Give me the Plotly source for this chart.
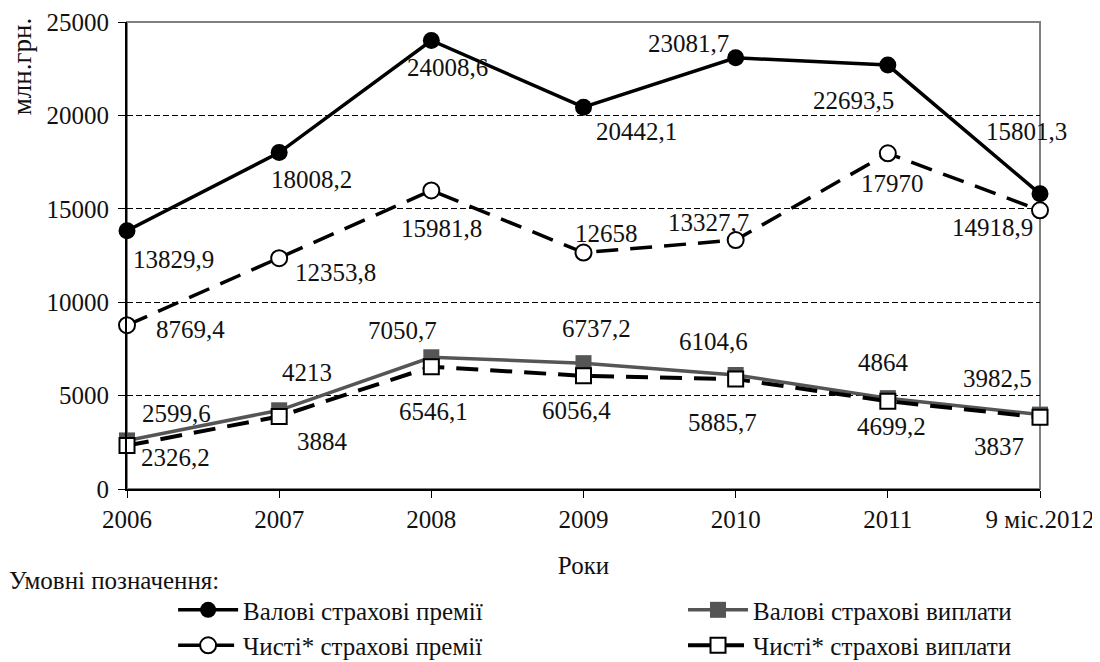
import plotly.graph_objects as go

categories = ["2006", "2007", "2008", "2009", "2010", "2011", "9 міс.2012"]
gross_premiums = [13829.9, 18008.2, 24008.6, 20442.1, 23081.7, 22693.5, 15801.3]
net_premiums = [8769.4, 12353.8, 15981.8, 12658, 13327.7, 17970, 14918.9]
gross_payouts = [2599.6, 4213, 7050.7, 6737.2, 6104.6, 4864, 3982.5]
net_payouts = [2326.2, 3884, 6546.1, 6056.4, 5885.7, 4699.2, 3837]
y_ticks = [0, 5000, 10000, 15000, 20000, 25000]

names = ["Валові страхові премії", "Чисті* страхові премії",
         "Валові страхові виплати", "Чисті* страхові виплати"]

# label offsets in px (dx right, dy down) for each series
label_offsets = [
    [(46, 29), (32, 27), (16, 27), (53, 24), (-47, -14), (-34, 35), (-14, -62)],
    [(63, 4), (56, 14), (10, 38), (23, -19), (-27, -18), (5, 30), (-48, 17)],
    [(49, -27), (28, -38), (-29, -27), (13, -35), (-22, -33), (-4, -36), (-43, -36)],
    [(48, 12), (43, 25), (2, 45), (-7, 35), (-13, 43), (4, 25), (-41, 29)],
]

FONT = "'Liberation Serif', 'Times New Roman', Times, 'DejaVu Serif', serif"
FS = 25
TXT = "#111111"


def fmt(v):
    if float(v).is_integer():
        return str(int(v))
    return f"{v:.1f}".replace(".", ",")


fig = go.Figure()

fig.add_trace(go.Scatter(
    x=categories, y=gross_premiums, name=names[0], mode="lines+markers",
    line=dict(color="#000000", width=3.5),
    marker=dict(symbol="circle", size=17, color="#000000"),
    cliponaxis=False, legend="legend"))
fig.add_trace(go.Scatter(
    x=categories, y=net_premiums, name=names[1], mode="lines+markers",
    line=dict(color="#000000", width=3.5, dash="22px,12px"),
    marker=dict(symbol="circle", size=16, color="#ffffff",
                line=dict(color="#000000", width=2)),
    cliponaxis=False, legend="legend"))
fig.add_trace(go.Scatter(
    x=categories, y=gross_payouts, name=names[2], mode="lines+markers",
    line=dict(color="#555555", width=3.5),
    marker=dict(symbol="square", size=16, color="#555555"),
    cliponaxis=False, legend="legend2"))
fig.add_trace(go.Scatter(
    x=categories, y=net_payouts, name=names[3], mode="lines+markers",
    line=dict(color="#000000", width=4, dash="22px,12px"),
    marker=dict(symbol="square", size=15, color="#ffffff",
                line=dict(color="#000000", width=2)),
    cliponaxis=False, legend="legend2"))

series = [gross_premiums, net_premiums, gross_payouts, net_payouts]
annotations = []
for vals, offs in zip(series, label_offsets):
    for i, (v, (dx, dy)) in enumerate(zip(vals, offs)):
        annotations.append(dict(
            x=i, y=v, xref="x", yref="y", text=fmt(v), showarrow=False,
            xshift=dx, yshift=-dy, xanchor="center", yanchor="middle",
            font=dict(family=FONT, size=FS, color=TXT)))

annotations.append(dict(
    text="млн.грн.", xref="paper", yref="paper", x=-0.115, y=0.905,
    textangle=-90, showarrow=False, xanchor="center", yanchor="middle",
    font=dict(family=FONT, size=FS + 2, color=TXT)))
annotations.append(dict(
    text="Умовні позначення:", xref="paper", yref="paper", x=-0.131, y=-0.195,
    showarrow=False, xanchor="left", yanchor="middle",
    font=dict(family=FONT, size=FS, color=TXT)))

# page body has an 8px margin, so the figure is offset by 8px in the screenshot
fig.update_layout(
    width=1100, height=662,
    margin=dict(l=119, r=68, t=14, b=181, autoexpand=False),
    paper_bgcolor="#ffffff", plot_bgcolor="#ffffff",
    font=dict(family=FONT, size=FS, color=TXT),
    annotations=annotations,
    legend=dict(orientation="v", x=0.0505, xanchor="left", y=-0.21, yanchor="top",
                font=dict(family=FONT, size=FS, color=TXT),
                bgcolor="rgba(0,0,0,0)", itemwidth=60),
    legend2=dict(orientation="v", x=0.609, xanchor="left", y=-0.21, yanchor="top",
                 font=dict(family=FONT, size=FS, color=TXT),
                 bgcolor="rgba(0,0,0,0)", itemwidth=60),
    shapes=[dict(type="rect", xref="paper", yref="paper", x0=0, y0=0, x1=1, y1=1,
                 line=dict(color="#808080", width=2), layer="between")],
)

fig.update_xaxes(
    type="category", range=[0, 6], showgrid=False, zeroline=False,
    showline=True, linecolor="#000000", linewidth=2,
    ticks="outside", ticklen=7, tickwidth=1, tickcolor="#000000",
    tickfont=dict(family=FONT, size=FS, color=TXT),
    ticklabelstandoff=0,
    title=dict(text="Роки", font=dict(family=FONT, size=FS, color=TXT), standoff=24),
)
fig.update_yaxes(
    range=[0, 25000], tickvals=y_ticks, tickformat="d",
    showgrid=True, gridcolor="#000000", gridwidth=1, griddash="6px,3px",
    zeroline=False, showline=True, linecolor="#000000", linewidth=2,
    ticks="outside", ticklen=7, tickwidth=1, tickcolor="#000000",
    tickfont=dict(family=FONT, size=FS, color=TXT),
    ticklabelstandoff=4,
)

fig.write_html("out.html")
